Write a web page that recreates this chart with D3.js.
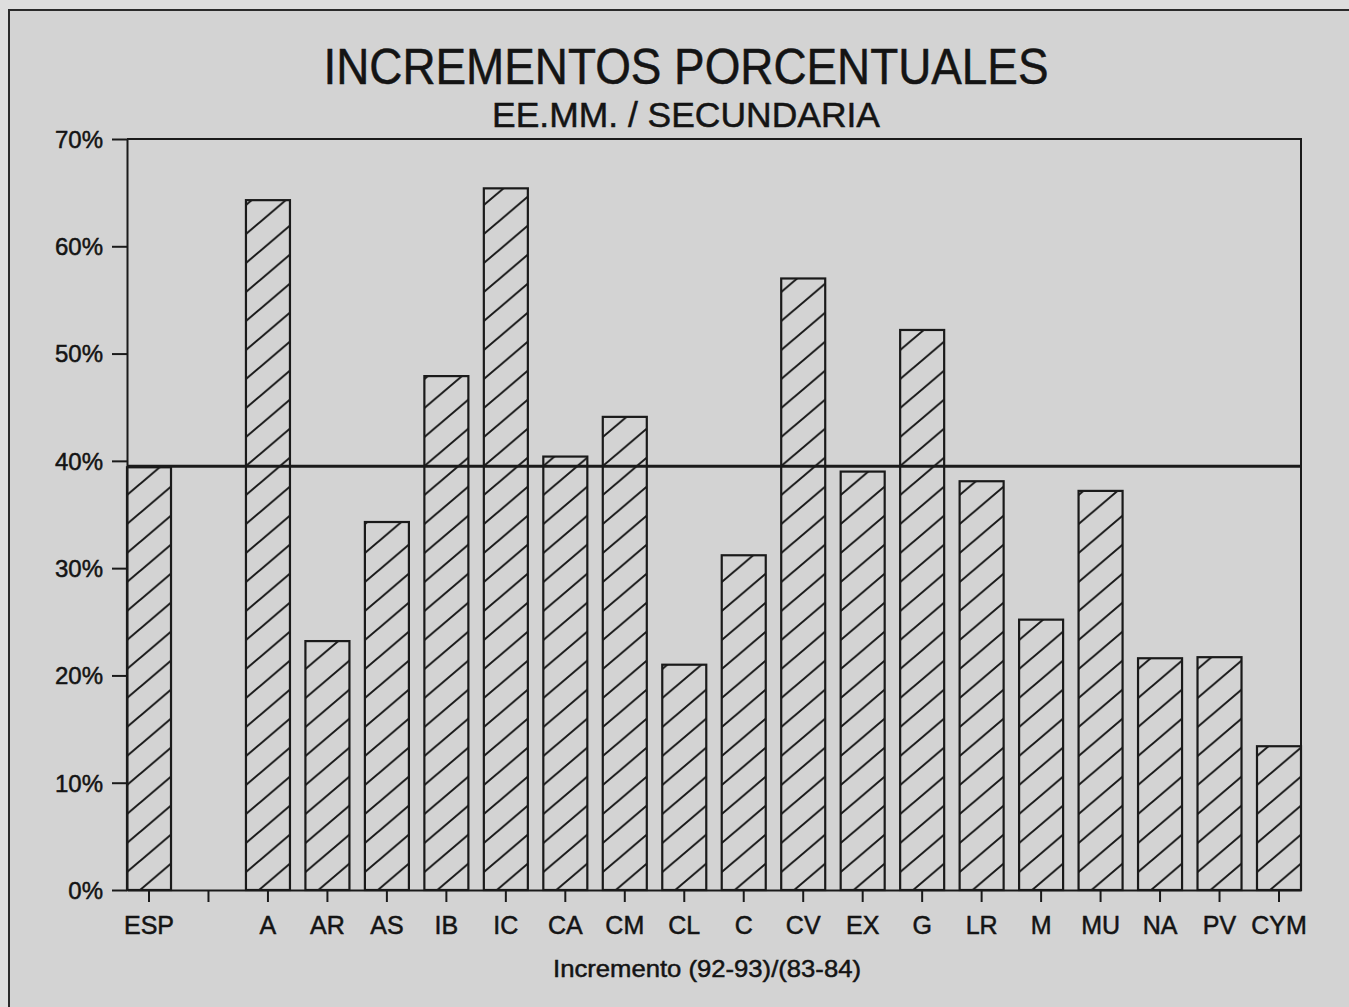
<!DOCTYPE html>
<html>
<head>
<meta charset="utf-8">
<script src="https://cdn.jsdelivr.net/npm/d3@7"></script>
<style>
  html, body { margin: 0; padding: 0; background: #dedede; }
  svg { display: block; }
  text { font-family: "Liberation Sans", Arial, Helvetica, sans-serif; fill: #141414; stroke: #141414; stroke-width: 0.5px; }
</style>
</head>
<body>
<svg id="chart"></svg>
<script>
// regions (blank slot separates the national total from the regions)
const categories = ['ESP', '', 'A', 'AR', 'AS', 'IB', 'IC', 'CA', 'CM', 'CL', 'C', 'CV', 'EX', 'G', 'LR', 'M', 'MU', 'NA', 'PV', 'CYM'];
const increments = [39.4, null, 64.3, 23.2, 34.3, 47.9, 65.4, 40.4, 44.1, 21.0, 31.2, 57.0, 39.0, 52.2, 38.1, 25.2, 37.2, 21.6, 21.7, 13.4];
const yTicks = [0, 10, 20, 30, 40, 50, 60, 70];
const refValue = 39.5;

const W = 1349, H = 1007;
const margin = { top: 139, right: 48, bottom: 117, left: 127 };
const ink = '#1a1a1a';

const svg = d3.select('#chart').attr('width', W).attr('height', H);

// paper frame
svg.append('rect')
  .attr('x', 9).attr('y', 10).attr('width', W + 20).attr('height', H + 20)
  .attr('fill', '#d3d3d3').attr('stroke', '#2a2a2a').attr('stroke-width', 2);

const x = d3.scaleBand()
  .domain(categories.map((d, i) => i))
  .range([margin.left, W - margin.right])
  .paddingInner(0.26)
  .paddingOuter(0);

const y = d3.scaleLinear().domain([0, 70]).range([H - margin.bottom, margin.top]);

const data = categories.map((c, i) => ({ key: i, label: c, value: increments[i] }))
  .filter(d => d.value != null);

// hatch pattern per bar, anchored at the bar's bottom-left
const hw = 34.1, hh = 29;
const defs = svg.append('defs');
data.forEach(d => {
  const p = defs.append('pattern')
    .attr('id', 'hatch' + d.key)
    .attr('patternUnits', 'userSpaceOnUse')
    .attr('width', hw).attr('height', hh)
    .attr('patternTransform', `translate(${x(d.key) + 13},${y(0)})`);
  p.append('path')
    .attr('d', `M${-hw / 2},${hh / 2}L${hw / 2},${-hh / 2}M0,${hh}L${hw},0M${hw / 2},${hh * 1.5}L${hw * 1.5},${hh / 2}`)
    .attr('stroke', ink).attr('stroke-width', 2);
});

// plot box (top and right)
svg.append('path')
  .attr('d', `M${margin.left},${margin.top}H${W - margin.right}V${y(0)}`)
  .attr('fill', 'none').attr('stroke', ink).attr('stroke-width', 2);

// bars
svg.append('g').selectAll('rect')
  .data(data)
  .join('rect')
  .attr('x', d => x(d.key))
  .attr('y', d => y(d.value))
  .attr('width', x.bandwidth())
  .attr('height', d => y(0) - y(d.value))
  .attr('fill', d => `url(#hatch${d.key})`)
  .attr('stroke', ink).attr('stroke-width', 2.2);

// reference line (national average)
svg.append('line')
  .attr('x1', margin.left).attr('x2', W - margin.right)
  .attr('y1', y(refValue)).attr('y2', y(refValue))
  .attr('stroke', ink).attr('stroke-width', 3);

// y axis
const yAxis = svg.append('g')
  .attr('transform', `translate(${margin.left},0)`)
  .call(d3.axisLeft(y).tickValues(yTicks).tickSize(15).tickSizeOuter(0).tickPadding(9).tickFormat(d => d + '%'));
yAxis.select('.domain').attr('stroke', ink).attr('stroke-width', 2);
yAxis.selectAll('.tick line').attr('stroke', ink).attr('stroke-width', 2);
yAxis.selectAll('.tick text').attr('font-size', 24).attr('fill', '#141414').attr('dy', '0.35em');

// x axis
const xAxis = svg.append('g')
  .attr('transform', `translate(0,${y(0)})`)
  .call(d3.axisBottom(x).tickSize(12).tickSizeOuter(0).tickFormat(i => categories[i]));
xAxis.select('.domain').attr('stroke', ink).attr('stroke-width', 2);
xAxis.selectAll('.tick line').attr('stroke', ink).attr('stroke-width', 2);
xAxis.selectAll('.tick text').attr('font-size', 25).attr('fill', '#141414').attr('y', 44).attr('dy', 0);

// titles
svg.append('text')
  .attr('x', 686).attr('y', 84)
  .attr('text-anchor', 'middle')
  .attr('font-size', 50)
  .attr('textLength', 725).attr('lengthAdjust', 'spacingAndGlyphs')
  .text('INCREMENTOS PORCENTUALES');

svg.append('text')
  .attr('x', 686).attr('y', 127)
  .attr('text-anchor', 'middle')
  .attr('font-size', 35)
  .attr('textLength', 388).attr('lengthAdjust', 'spacingAndGlyphs')
  .text('EE.MM. / SECUNDARIA');

svg.append('text')
  .attr('x', 707).attr('y', 977)
  .attr('text-anchor', 'middle')
  .attr('font-size', 24)
  .attr('textLength', 308).attr('lengthAdjust', 'spacingAndGlyphs')
  .text('Incremento (92-93)/(83-84)');
</script>
</body>
</html>
